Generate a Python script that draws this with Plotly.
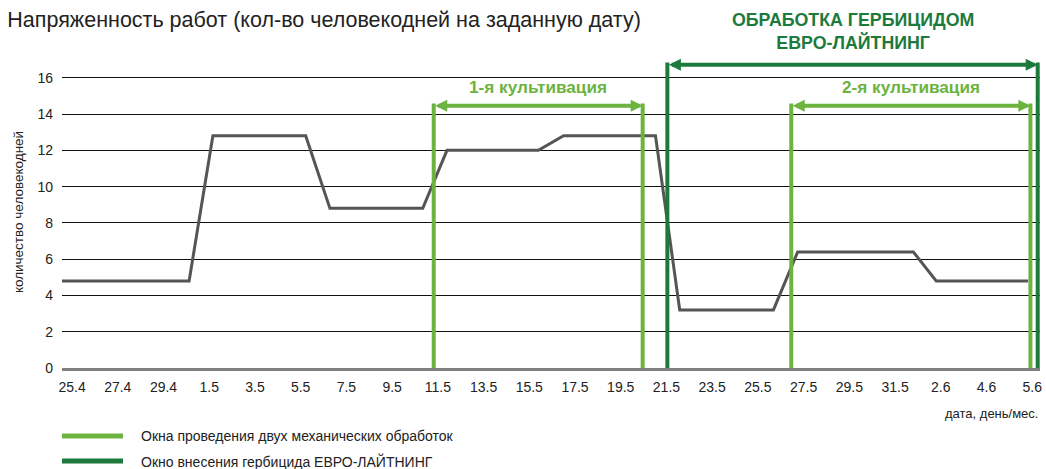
import plotly.graph_objects as go

# x-axis labels (day.month), one per category slot
dates = ["25.4", "27.4", "29.4", "1.5", "3.5", "5.5", "7.5", "9.5", "11.5",
         "13.5", "15.5", "17.5", "19.5", "21.5", "23.5", "25.5", "27.5",
         "29.5", "31.5", "2.6", "4.6", "5.6"]

# workload curve, x in label-slot units
line_pos = [-0.22, 2.56, 3.08, 5.11, 5.64, 7.67, 8.2, 10.2, 10.75, 12.76,
            13.29, 15.34, 15.87, 18.4, 18.9, 20.91]
workload = [4.8, 4.8, 12.8, 12.8, 8.8, 8.8, 12, 12, 12.8, 12.8,
            3.2, 3.2, 6.4, 6.4, 4.8, 4.8]

# treatment windows (start, end) in label-slot units
cult_windows = [(7.91, 12.48), (15.73, 20.96)]
cult_names = ["1-я культивация", "2-я культивация"]
herb_window = (13.02, 21.12)
herb_name = "ОБРАБОТКА ГЕРБИЦИДОМ<br>ЕВРО-ЛАЙТНИНГ"

legend_names = ["Окна проведения двух механических обработок",
                "Окно внесения гербицида ЕВРО-ЛАЙТНИНГ"]

LIGHT = "#6cb33f"
DARK = "#1c7a3d"
FONT = "Liberation Sans, Arial, sans-serif"

# plot area in pixels: left 62, right 1040, top 56, bottom 368
PH = 312.0
PW = 978.0


def py(px):
    return (368 - px) / PH


fig = go.Figure()
fig.add_trace(go.Scatter(x=line_pos, y=workload, mode="lines",
                         line=dict(color="#555555", width=3),
                         showlegend=False, hoverinfo="skip"))

shapes = []
annotations = []


def add_window(x0, x1, level, color, label, label_y, size):
    for xv in (x0, x1):
        shapes.append(dict(type="line", xref="x", yref="y", x0=xv, x1=xv,
                           y0=0, y1=level + 0.12, layer="above",
                           line=dict(color=color, width=4)))
    annotations.append(dict(x=x1, y=level, ax=x0, ay=level, xref="x", yref="y",
                            axref="x", ayref="y", text="", showarrow=True,
                            arrowside="end+start", arrowhead=2, arrowsize=0.6,
                            arrowwidth=4, arrowcolor=color))
    annotations.append(dict(x=(x0 + x1) / 2, y=label_y, xref="x", yref="paper",
                            text=label, showarrow=False, yanchor="middle",
                            font=dict(family=FONT, size=size, color=color)))


for (a, b), name in zip(cult_windows, cult_names):
    add_window(a, b, 14.46, LIGHT, "<b>" + name + "</b>", py(87), 17.2)

add_window(herb_window[0], herb_window[1], 16.72, DARK,
           "<b>" + herb_name + "</b>", py(31), 17.8)

# axis caption
annotations.append(dict(x=1, y=py(413), xref="paper", yref="paper",
                        xanchor="right", yanchor="middle", showarrow=False,
                        text="дата, день/мес.",
                        font=dict(family=FONT, size=13, color="#222222")))

# legend drawn by hand
for i, (name, color) in enumerate(zip(legend_names, [LIGHT, DARK])):
    yp = py(436 + 25 * i)
    shapes.append(dict(type="line", xref="paper", yref="paper",
                       x0=0, x1=61 / PW, y0=yp, y1=yp,
                       line=dict(color=color, width=5)))
    annotations.append(dict(x=77 / PW, y=yp, xref="paper", yref="paper",
                            xanchor="left", yanchor="middle", showarrow=False,
                            text=name,
                            font=dict(family=FONT, size=14, color="#222222")))

fig.update_layout(
    width=1046, height=469,
    margin=dict(l=62, r=6, t=56, b=101, autoexpand=False),
    plot_bgcolor="white", paper_bgcolor="white",
    font=dict(family=FONT, size=14, color="#222222"),
    title=dict(text="Напряженность работ (кол-во человекодней на заданную дату)",
               x=0.007, xanchor="left", xref="container",
               y=1 - 19 / 469, yanchor="middle", yref="container",
               font=dict(family=FONT, size=21.5, color="#222222")),
    shapes=shapes, annotations=annotations,
    showlegend=False,
)
fig.update_xaxes(range=[-0.22, 21.17], tickmode="array",
                 tickvals=list(range(len(dates))), ticktext=dates,
                 showgrid=False, zeroline=False, showline=True,
                 linecolor="#808080", linewidth=2.5, ticks="",
                 ticklabelstandoff=4, tickfont=dict(size=14),
                 automargin=False, ticklabeloverflow="allow")
fig.update_yaxes(range=[0, 17.2], tickvals=list(range(0, 17, 2)),
                 showgrid=True, gridcolor="#111111", gridwidth=1,
                 zeroline=False, showline=False, ticks="",
                 ticklabelstandoff=8, tickfont=dict(size=14),
                 automargin=False,
                 title=dict(text="количество человекодней", standoff=10,
                            font=dict(size=13.5)))

fig.write_html("out.html", config={"displayModeBar": False},
               post_script="document.body.style.margin='0';")
